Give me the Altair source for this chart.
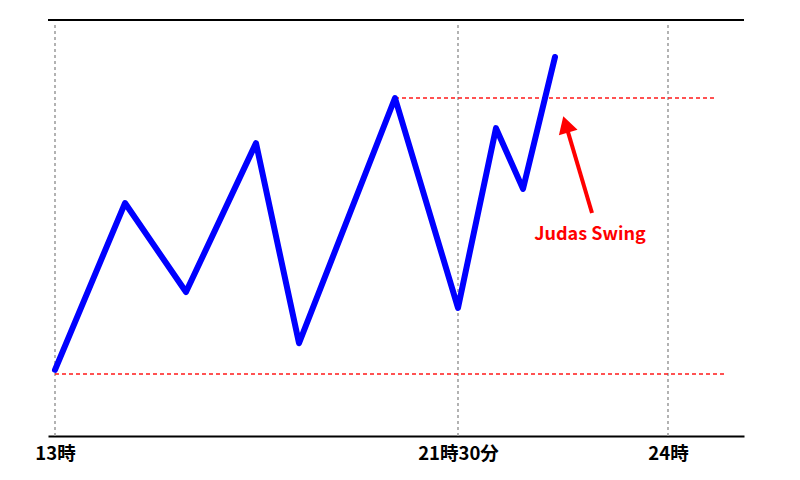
import altair as alt
import pandas as pd

# price path (x: offset from 13時, y: price level)
path_x = [0, 70, 131, 201, 244, 340, 403, 441, 468, 500]
path_y = [15.9, 56.0, 34.6, 70.4, 22.3, 81.25, 30.8, 74.0, 59.4, 91.1]

# time markers
tick_x = [0, 403, 613]
tick_labels = ["13時", "21時30分", "24時"]

# horizontal reference levels
level_y = [81.25, 14.9]
level_x1 = [340, 0]
level_x2 = [660, 670]

# annotation
arrow_tail = (537, 53.6)
arrow_head = (510.75, 74.9)
note_pos = (535, 48.4)
note_text = "Judas Swing"

X_DOMAIN = [-7, 689]
Y_DOMAIN = [0, 100]

xs = alt.Scale(domain=X_DOMAIN, nice=False, zero=False)
ys = alt.Scale(domain=Y_DOMAIN, nice=False, zero=False)

path_df = pd.DataFrame({"x": path_x, "y": path_y})
ticks_df = pd.DataFrame({"x": tick_x, "label": tick_labels,
                         "y0": [Y_DOMAIN[0]] * 3, "y1": [99.5] * 3})
top_df = pd.DataFrame({"x1": [X_DOMAIN[0]], "x2": [X_DOMAIN[1]], "y": [Y_DOMAIN[1]]})
levels_df = pd.DataFrame({"y": level_y, "x1": level_x1, "x2": level_x2})
arrow_df = pd.DataFrame({"x": [arrow_tail[0]], "y": [arrow_tail[1]],
                         "x2": [arrow_head[0]], "y2": [arrow_head[1]]})
head_df = pd.DataFrame({"x": [arrow_head[0]], "y": [arrow_head[1]]})
note_df = pd.DataFrame({"x": [note_pos[0]], "y": [note_pos[1]], "t": [note_text]})

label_map = "{" + ",".join(f"'{v}':'{l}'" for v, l in zip(tick_x, tick_labels)) + "}"

base_x_axis = alt.Axis(
    values=tick_x,
    labelExpr=f"{label_map}[datum.value]",
    ticks=False,
    grid=False,
    domainColor="black",
    domainWidth=2.2,
    labelFont="Noto Sans CJK JP",
    labelFontWeight="bold",
    labelFontSize=18.5,
    labelColor="black",
    labelPadding=8,
    title=None,
)

vlines = alt.Chart(ticks_df).mark_rule(
    color="#a0a0a0", strokeDash=[3, 3], strokeWidth=1.6
).encode(
    x=alt.X("x:Q", scale=xs, axis=base_x_axis),
    y=alt.Y("y0:Q", scale=ys, axis=None),
    y2="y1:Q",
)

top_rule = alt.Chart(top_df).mark_rule(color="black", strokeWidth=2.2).encode(
    x=alt.X("x1:Q", scale=xs),
    x2="x2:Q",
    y=alt.Y("y:Q", scale=ys, axis=None),
)

levels = alt.Chart(levels_df).mark_rule(
    color="#ff1a1a", strokeDash=[4, 3], strokeWidth=1.6
).encode(
    x=alt.X("x1:Q", scale=xs),
    x2="x2:Q",
    y=alt.Y("y:Q", scale=ys, axis=None),
)

line = alt.Chart(path_df).mark_line(
    color="#0000ff", strokeWidth=6, strokeCap="round", strokeJoin="round"
).encode(
    x=alt.X("x:Q", scale=xs),
    y=alt.Y("y:Q", scale=ys, axis=None),
)

shaft = alt.Chart(arrow_df).mark_rule(color="#ff0000", strokeWidth=4).encode(
    x=alt.X("x:Q", scale=xs),
    y=alt.Y("y:Q", scale=ys),
    x2="x2:Q",
    y2="y2:Q",
)

head = alt.Chart(head_df).mark_point(
    shape="triangle-up", filled=True, color="#ff0000", size=380, angle=343, opacity=1
).encode(
    x=alt.X("x:Q", scale=xs),
    y=alt.Y("y:Q", scale=ys),
)

note = alt.Chart(note_df).mark_text(
    color="#ff0000", font="Noto Sans CJK JP", fontWeight="bold", fontSize=18,
    align="center", baseline="middle"
).encode(
    x=alt.X("x:Q", scale=xs),
    y=alt.Y("y:Q", scale=ys),
    text="t:N",
)

chart = alt.layer(vlines, top_rule, levels, line, shaft, head, note).properties(
    width=696,
    height=416,
    autosize=alt.AutoSizeParams(type="none"),
    padding={"left": 40, "top": 12, "right": 48, "bottom": 36},
    background="white",
).configure_view(stroke=None)

chart.save("out.html", embed_options={"renderer": "svg", "actions": False})
